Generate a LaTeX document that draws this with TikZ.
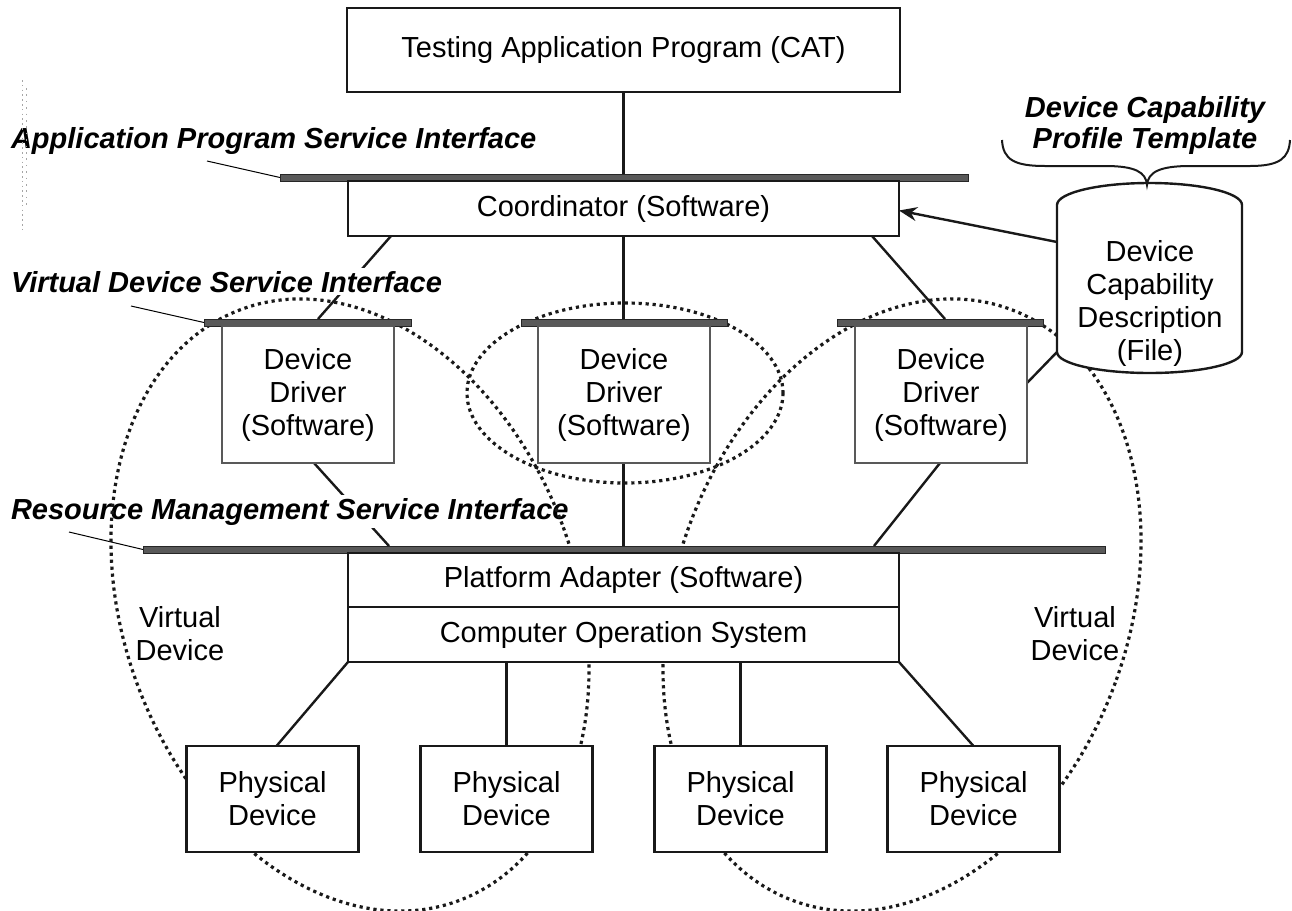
\documentclass[tikz,border=0pt]{standalone}
\usepackage{fontspec}
\setmainfont{Liberation Sans}
\usetikzlibrary{calc,arrows.meta}
\pgfdeclarelayer{bg}
\pgfdeclarelayer{lab}
\pgfdeclarelayer{ell}
\pgfsetlayers{bg,lab,ell,main}
\begin{document}
\begin{tikzpicture}[x=0.5pt,y=-0.5pt,
  every node/.style={font=\fontsize{14.5}{16.5}\selectfont, inner sep=0pt, outer sep=0pt},
  box/.style={draw=black!90, line width=1.2pt, fill=white, align=center},
  drv/.style={draw=black!65, line width=0.6pt, fill=white, align=center, minimum width=86pt, minimum height=68.5pt},
  bar/.style={draw=black!85, fill=black!65, line width=0.5pt, minimum height=3.5pt},
  pd/.style={box, minimum width=86pt, minimum height=53pt},
  lbl/.style={font=\fontsize{14.5}{16.5}\selectfont\bfseries\itshape, fill=white, inner sep=1.5pt, anchor=base west},
  conn/.style={line width=1.2pt, black!90},
  lead/.style={line width=0.5pt},
  vdot/.style={line width=1.6pt, black!90, dash pattern=on 1.6pt off 1.9pt}
]
\useasboundingbox (0,0) rectangle (1292,911);

% faint artefact marks at the left
\draw[black!35, line width=0.4pt, dash pattern=on 0.8pt off 1.6pt] (22,80) -- (22,230);
\draw[black!35, line width=0.4pt, dash pattern=on 0.8pt off 2.4pt] (26,88) -- (26,205);

% boxes
\node[box, minimum width=276.5pt, minimum height=42pt] (tap) at (623.5,50) {Testing Application Program (CAT)};
\node[bar, minimum width=344pt] (apsi) at (624,177.5) {};
\node[box, minimum width=275.5pt, minimum height=27.5pt] (coord) at (623.5,208.5) {Coordinator (Software)};

\node[bar, minimum width=103.5pt] (b1) at (307.5,322.5) {};
\node[drv] (d1) at (308,394.5) {Device\\Driver\\(Software)};
\node[bar, minimum width=103pt] (b2) at (624,322.5) {};
\node[drv] (d2) at (624,394.5) {Device\\Driver\\(Software)};
\node[bar, minimum width=103pt] (b3) at (940,322.5) {};
\node[drv] (d3) at (941,394.5) {Device\\Driver\\(Software)};

\node[bar, minimum width=481pt] (rmsi) at (624,549.5) {};
\node[box, minimum width=275.5pt, minimum height=27pt] (pa) at (623.5,580) {Platform Adapter (Software)};
\node[box, minimum width=275.5pt, minimum height=27.5pt] (cos) at (623.5,634.5) {Computer Operation System};

\node[pd] (pd1) at (272.5,799) {Physical\\Device};
\node[pd] (pd2) at (506.5,799) {Physical\\Device};
\node[pd] (pd3) at (740.5,799) {Physical\\Device};
\node[pd] (pd4) at (973.5,799) {Physical\\Device};

% cylinder (file)
\draw[line width=1.2pt, black!90, fill=white] (1057,205) arc[start angle=180, end angle=360, x radius=92.5, y radius=22]
  -- (1242,352) arc[start angle=0, end angle=180, x radius=92.5, y radius=21] -- cycle;
\node[align=center] (cyl) at (1150,303) {Device\\Capability\\Description\\(File)};
\coordinate (cylA) at (1057,242);
\coordinate (cylB) at (1057,352);

% brace and its label
\draw[line width=1pt, black!90] (1002,140) .. controls (1003,160) and (1015,166) .. (1045,166) -- (1105,166)
  .. controls (1135,166) and (1146,172) .. (1147,185)
  .. controls (1148,172) and (1160,166) .. (1190,166) -- (1250,166)
  .. controls (1280,166) and (1289,158) .. (1290,140);
\node[font=\fontsize{14.5}{15.5}\selectfont\bfseries\itshape, align=center, anchor=base] (dcpt) at (1145,148) {Device Capability\\Profile Template};

% virtual device labels
\node[align=center] (vdl) at (180,634) {Virtual\\Device};
\node[align=center] (vdr) at (1075,634) {Virtual\\Device};

% interface labels
\begin{pgfonlayer}{lab}
\node[lbl] (apsil) at (8,148) {Application Program Service Interface};
\node[lbl] (vdsil) at (8,292) {Virtual Device Service Interface};
\node[lbl] (rmsil) at (8,519) {Resource Management Service Interface};
\end{pgfonlayer}

% dotted virtual-device outlines
\begin{pgfonlayer}{ell}
\begin{scope}[shift={(350,605)}, rotate=20]
  \draw[vdot] (0,0) ellipse[x radius=227, y radius=315];
\end{scope}
\begin{scope}[shift={(902,605)}, rotate=-20]
  \draw[vdot] (0,0) ellipse[x radius=227, y radius=315];
\end{scope}
\draw[vdot] (625,393) ellipse[x radius=158, y radius=90];
\end{pgfonlayer}

% connectors
\begin{pgfonlayer}{bg}
\coordinate (apsiL) at (207,161);
\coordinate (vdsiL) at (131,306);
\coordinate (rmsiL) at (69,532);
\draw[lead] (apsiL) -- (apsi.west);
\draw[lead] (vdsiL) -- (b1.west);
\draw[lead] (rmsiL) -- (rmsi.west);

\draw[conn] (tap.south) -- (tap.south |- apsi.north);
\draw[conn] ($(coord.south west)+(43,0)$) -- ($(b1.north west)+(114,0)$);
\draw[conn] (coord.south) -- (coord.south |- b2.north);
\draw[conn] ($(coord.south west)+(524,0)$) -- ($(b3.north west)+(108,0)$);
\draw[conn] ($(d1.south west)+(92,0)$) -- ($(rmsi.north west)+(246,0)$);
\draw[conn] (coord.south |- d2.south) -- (coord.south |- rmsi.north);
\draw[conn] ($(d3.south west)+(85,0)$) -- ($(rmsi.north west)+(731,0)$);
\draw[conn] (cos.south west) -- ($(pd1.north)+(4,0)$);
\draw[conn] (pd2.north |- cos.south) -- (pd2.north);
\draw[conn] (pd3.north |- cos.south) -- (pd3.north);
\draw[conn] (cos.south east) -- (pd4.north);
\draw[conn] ($(d3.east)+(0,-11.5)$) -- (cylB);
\end{pgfonlayer}
\draw[conn, -{Stealth[length=9pt,width=7pt]}] (cylA) -- ($(coord.east)+(0,2)$);
\end{tikzpicture}
\end{document}
